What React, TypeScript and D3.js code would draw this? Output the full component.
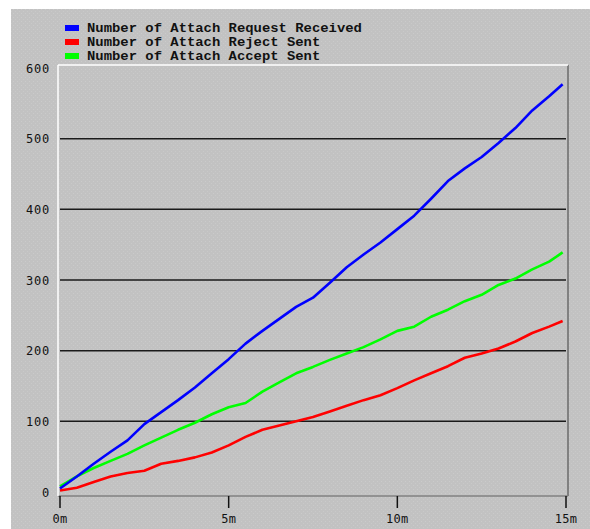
import React from "react";
import * as d3 from "d3";

const times = [0, 0.5, 1, 1.5, 2, 2.5, 3, 3.5, 4, 4.5, 5, 5.5, 6, 6.5, 7, 7.5, 8, 8.5, 9, 9.5, 10, 10.5, 11, 11.5, 12, 12.5, 13, 13.5, 14, 14.5, 14.9];
const requestReceived = [5, 22, 40, 57, 73, 96, 113, 130, 148, 168, 188, 210, 228, 245, 262, 275, 296, 318, 336, 353, 372, 391, 415, 440, 458, 474, 494, 515, 540, 560, 577];
const rejectSent = [2, 6, 14, 22, 27, 30, 40, 44, 49, 56, 66, 78, 88, 94, 100, 106, 114, 122, 130, 137, 147, 158, 168, 178, 190, 196, 203, 213, 225, 234, 242];
const acceptSent = [8, 22, 34, 44, 54, 66, 77, 88, 98, 110, 120, 126, 142, 155, 168, 177, 187, 196, 205, 216, 228, 234, 248, 258, 270, 279, 293, 302, 315, 326, 339];

const seriesNames = ["Number of Attach Request Received", "Number of Attach Reject Sent", "Number of Attach Accept Sent"];
const seriesColors = ["#0000ff", "#ff0000", "#00ff00"];
const yTicks = [0, 100, 200, 300, 400, 500, 600];
const xTicks = [0, 5, 10, 15];

export default function App() {
  const W = 590, H = 529;
  const left = 58, right = 568, top = 65, bottom = 496;
  const x = d3.scaleLinear().domain([0, 15]).range([60, 566]);
  const y = d3.scaleLinear().domain([0, 600]).range([492, 68]);
  const line = d3.line<[number, number]>().x(d => x(d[0])).y(d => y(d[1]));
  const allSeries = [requestReceived, rejectSent, acceptSent];
  const order = [1, 2, 0];
  const tickFont = "'DejaVu Sans Mono', monospace";
  const legendFont = "'Liberation Mono', 'Courier New', monospace";
  return (
    <svg width={W} height={H} style={{ position: "absolute", left: 0, top: 0 }}>
      <defs>
        <pattern id="dots" width="4" height="4" patternUnits="userSpaceOnUse">
          <rect width="4" height="4" fill="#c2c2c2" />
          <rect x="1" y="1" width="1" height="1" fill="#cbcbcb" />
          <rect x="3" y="3" width="1" height="1" fill="#c9c9c9" />
        </pattern>
      </defs>
      <rect x={0} y={0} width={W} height={H} fill="#ffffff" />
      <rect x={11} y={9} width={W - 11} height={H - 9} fill="url(#dots)" />
      {seriesNames.map((n, i) => (
        <g key={n}>
          <rect x={65} y={25 + i * 14} width={14} height={6} fill={seriesColors[i]} />
          <text x={87} y={32 + i * 14} fontFamily={legendFont} fontSize={13} fontWeight="bold" fill="#111" textLength={n.length * 8.33} lengthAdjust="spacingAndGlyphs">{n}</text>
        </g>
      ))}
      <line x1={right} y1={top} x2={right} y2={bottom} stroke="#6a6a6a" strokeWidth={1.5} />
      <line x1={left} y1={bottom} x2={right} y2={bottom} stroke="#808080" strokeWidth={1.5} />
      <line x1={left} y1={top} x2={right} y2={top} stroke="#ffffff" strokeWidth={1.5} />
      <line x1={left} y1={top} x2={left} y2={bottom} stroke="#ffffff" strokeWidth={1.5} />
      {yTicks.filter(t => t > 0 && t < 600).map(t => (
        <line key={t} x1={left + 2} x2={right - 2} y1={y(t)} y2={y(t)} stroke="#1a1a1a" strokeWidth={1.5} />
      ))}
      {yTicks.map(t => (
        <text key={t} x={50} y={y(t) + 4.5} textAnchor="end" fontFamily={tickFont} fontSize={12} letterSpacing={0.8} fill="#111">{t}</text>
      ))}
      {xTicks.map(t => (
        <g key={t}>
          <line x1={x(t)} x2={x(t)} y1={bottom} y2={508} stroke="#111" strokeWidth={1.5} />
          <text x={x(t)} y={523} textAnchor="middle" fontFamily={tickFont} fontSize={12} letterSpacing={0.3} fill="#111">{t + "m"}</text>
        </g>
      ))}
      {order.map(i => (
        <path key={i} d={line(times.map((t, k) => [t, allSeries[i][k]] as [number, number])) || ""} fill="none" stroke={seriesColors[i]} strokeWidth={2.6} strokeLinejoin="round" />
      ))}
    </svg>
  );
}
